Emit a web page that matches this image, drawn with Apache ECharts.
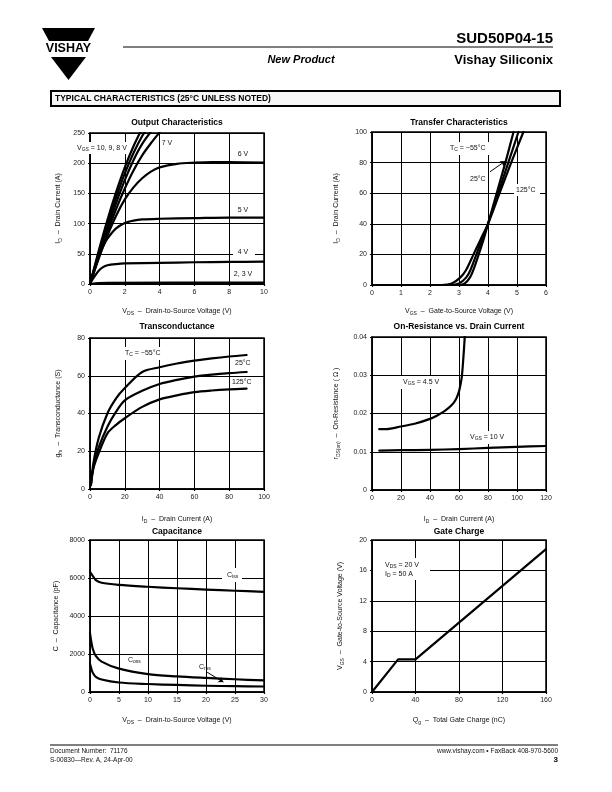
<!DOCTYPE html>
<html><head><meta charset="utf-8">
<script src="https://cdn.jsdelivr.net/npm/echarts@6/dist/echarts.min.js"></script>
<style>html,body{margin:0;padding:0;background:#fff}#c{width:612px;height:792px}</style>
</head><body><div id="c"></div>
<script>
// ---------- DATA ----------
// Output characteristics [VDS, ID]
const out10 = [[0,0],[0.5,55],[1,106],[1.5,152],[2,193],[2.5,228],[2.95,255]];
const out9  = [[0,0],[0.5,51],[1,99],[1.5,143],[2,183],[2.5,217],[3,245],[3.25,256]];
const out8  = [[0,0],[0.5,47],[1,92],[1.5,134],[2,172],[2.5,205],[3,232],[3.6,256]];
const out7  = [[0,0],[0.5,44],[1,86],[1.5,124],[2,158],[2.5,188],[3,213],[3.5,233],[4,251]];
const out6  = [[0,0],[0.5,42],[1,80],[1.5,113],[2,140],[2.5,160],[3,175],[3.5,186],[4,193],[5,199],[6,201],[7,202],[8,202],[10,201]];
const out5  = [[0,0],[0.25,25],[0.5,45],[0.75,62],[1,75],[1.5,92],[2,101],[2.5,105],[3,107],[4,108],[6,109],[8,110],[10,110]];
const out4  = [[0,0],[0.25,12],[0.5,22],[0.75,28],[1,31],[1.5,33],[2,34],[4,35],[6,36],[8,36.5],[10,37]];
const out3  = [[0,0],[0.5,1.5],[1,2],[10,2.2]];
const out2  = [[0,0],[10,0.2]];
// Transfer characteristics [VGS, ID]
const trM55 = [[0,0],[3.0,0],[3.2,1],[3.38,5],[3.5,10],[3.68,20],[3.85,30],[4.0,40],[4.3,60],[4.6,80],[4.88,100]];
const tr25  = [[0,0],[2.7,0],[3.0,1],[3.25,5],[3.4,10],[3.6,20],[3.8,30],[4.0,40],[4.35,60],[4.7,80],[5.05,100]];
const tr125 = [[0,0],[2.4,0],[2.75,1],[3.05,5],[3.25,10],[3.5,20],[3.75,30],[4.0,40],[4.4,60],[4.8,80],[5.22,100]];
// Transconductance [ID, gfs]
const gfsM55 = [[0.5,2],[2,14],[5,27],[10,40],[15,48],[20,53.5],[30,62],[40,64.5],[50,66.5],[60,68],[70,69.2],[80,70.2],[90,71]];
const gfs25  = [[0.5,2],[2,12],[5,22],[10,33],[15,41],[20,47],[30,52],[40,55.6],[50,57.8],[60,59.5],[70,60.6],[80,61.4],[90,62]];
const gfs125 = [[0.5,2],[2,11],[5,19],[10,29.5],[15,34],[20,37.5],[30,43.5],[40,47.5],[50,49.6],[60,51.3],[70,52.2],[80,52.8],[90,53.2]];
// On-resistance [ID, rDS(on)]
const ron45 = [[5,0.0159],[10,0.0159],[20,0.0166],[30,0.0174],[40,0.0186],[45,0.0195],[50,0.0206],[55,0.0222],[58,0.0238],[60,0.0258],[61,0.0275],[62,0.0298],[63,0.0345],[63.8,0.039],[64.3,0.0425]];
const ron10 = [[5,0.0103],[20,0.0104],[40,0.0105],[60,0.0107],[80,0.0110],[100,0.0113],[120,0.0115]];
// Capacitance [VDS, C]
const cIss = [[0,6330],[0.5,6100],[1,5890],[2,5750],[5,5640],[10,5540],[15,5460],[20,5390],[25,5330],[30,5270]];
const cOss = [[0,3100],[0.25,2600],[0.5,2250],[1,1900],[2,1600],[5,1230],[10,940],[15,820],[20,740],[25,670],[30,610]];
const cRss = [[0,1480],[0.25,1200],[0.5,1000],[1,800],[2,660],[5,500],[10,420],[15,370],[20,330],[25,305],[30,290]];
// Gate charge [Qg, VGS]
const gateQ = [[0,0],[24,4.3],[40,4.3],[160,18.8]];

// ---------- STYLE ----------
const FF = 'Liberation Sans, Arial, sans-serif';
const rich = {
  n: {fontSize: 7, fontFamily: FF, color: '#111'},
  s: {fontSize: 5, fontFamily: FF, color: '#111', padding: [4, 0, 0, 0]}
};
const grids = [
  {left: 90, top: 133, width: 174, height: 151},
  {left: 372, top: 132, width: 174, height: 153},
  {left: 90, top: 338, width: 174, height: 151},
  {left: 372, top: 337, width: 174, height: 153},
  {left: 90, top: 540, width: 174, height: 152},
  {left: 372, top: 540, width: 174, height: 152}
].map(g => Object.assign({show: true, borderColor: '#000', borderWidth: 1.5, containLabel: false}, g));

function axis(idx, min, max, interval, name, gap, fmt) {
  return {
    type: 'value', gridIndex: idx, min, max, interval,
    name, nameLocation: 'middle', nameGap: gap,
    nameTextStyle: {rich, fontSize: 7, fontFamily: FF, color: '#111'},
    axisLine: {show: true, lineStyle: {color: '#000', width: 1.5}},
    axisTick: {show: true, length: 2, lineStyle: {color: '#000', width: 1.2}},
    axisLabel: {fontSize: 7, fontFamily: FF, color: '#222', margin: 5, formatter: fmt || (v => String(v))},
    splitLine: {show: true, lineStyle: {color: '#000', width: 1}}
  };
}
const xAxes = [
  axis(0, 0, 10, 2, '{n|V}{s|DS}{n|  –  Drain-to-Source Voltage (V)}', 23),
  axis(1, 0, 6, 1, '{n|V}{s|GS}{n|  –  Gate-to-Source Voltage (V)}', 22),
  axis(2, 0, 100, 20, '{n|I}{s|D}{n|  –  Drain Current (A)}', 26),
  axis(3, 0, 120, 20, '{n|I}{s|D}{n|  –  Drain Current (A)}', 25),
  axis(4, 0, 30, 5, '{n|V}{s|DS}{n|  –  Drain-to-Source Voltage (V)}', 24),
  axis(5, 0, 160, 40, '{n|Q}{s|g}{n|  –  Total Gate Charge (nC)}', 24)
];
const yAxes = [
  axis(0, 0, 250, 50, '{n|I}{s|D}{n|  –  Drain Current (A)}', 27),
  axis(1, 0, 100, 20, '{n|I}{s|D}{n|  –  Drain Current (A)}', 31),
  axis(2, 0, 80, 20, '{n|g}{s|fs}{n|  –  Transconductance (S)}', 27),
  axis(3, 0, 0.04, 0.01, '{n|r}{s|DS(on)}{n|  –  On-Resistance ( Ω )}', 31, v => v === 0 ? '0' : v.toFixed(2)),
  axis(4, 0, 8000, 2000, '{n|C  –  Capacitance (pF)}', 30),
  axis(5, 0, 20, 4, '{n|V}{s|GS}{n|  –  Gate-to-Source Voltage (V)}', 27)
];

function line(idx, data, extra) {
  return Object.assign({
    type: 'line', xAxisIndex: idx, yAxisIndex: idx, data,
    showSymbol: false, symbol: 'none', smooth: 0.3,
    lineStyle: {color: '#000', width: 2.2, join: 'round', cap: 'round'}, clip: true, silent: true, animation: false
  }, extra || {});
}
function arrow(from, to) {
  return {
    silent: true, symbol: ['none', 'arrow'], symbolSize: 5, animation: false,
    label: {show: false}, lineStyle: {color: '#000', width: 1, type: 'solid'},
    data: [[{coord: from}, {coord: to}]]
  };
}
const series = [
  line(0, out10), line(0, out9), line(0, out8), line(0, out7), line(0, out6),
  line(0, out5), line(0, out4), line(0, out3), line(0, out2),
  line(1, trM55, {markLine: arrow([4.07, 74], [4.6, 81])}), line(1, tr25), line(1, tr125),
  line(2, gfsM55), line(2, gfs25), line(2, gfs125),
  line(3, ron45), line(3, ron10),
  line(4, cIss), line(4, cOss), line(4, cRss, {markLine: arrow([20.2, 1040], [23, 520])}),
  line(5, gateQ, {smooth: false})
];

// ---------- TEXT / DECORATION ----------
function txt(x, y, text, o) {
  o = o || {};
  return {type: 'text', x, y, z: 100, silent: true, style: Object.assign({
    text, fill: '#111', fontSize: 7, fontFamily: FF, textAlign: 'left', textVerticalAlign: 'middle', rich
  }, o)};
}
function wbox(x, y, w, h) {
  return {type: 'rect', z: 90, silent: true, shape: {x, y, width: w, height: h}, style: {fill: '#fff'}};
}
const titleStyle = {fontSize: 8.5, fontWeight: 'bold', textAlign: 'center', fill: '#000'};
const graphic = [
  // logo
  {type: 'polygon', silent: true, shape: {points: [[42, 28], [95, 28], [88, 41], [49, 41]]}, style: {fill: '#000'}},
  txt(68.5, 49, 'VISHAY', {fontSize: 12.5, fontWeight: 'bold', textAlign: 'center', fill: '#000'}),
  {type: 'polygon', silent: true, shape: {points: [[51, 57], [86, 57], [68.5, 80]]}, style: {fill: '#000'}},
  // header
  {type: 'line', silent: true, shape: {x1: 123, y1: 47, x2: 553, y2: 47}, style: {stroke: '#000', lineWidth: 1}},
  txt(553, 39, 'SUD50P04-15', {fontSize: 15, fontWeight: 'bold', textAlign: 'right', fill: '#000'}),
  txt(553, 60, 'Vishay Siliconix', {fontSize: 13, fontWeight: 'bold', textAlign: 'right', fill: '#000'}),
  txt(301, 60, 'New Product', {fontSize: 11, fontWeight: 'bold', fontStyle: 'italic', textAlign: 'center', fill: '#000'}),
  {type: 'rect', silent: true, shape: {x: 51, y: 91, width: 509, height: 15}, style: {fill: '#f7f7f7', stroke: '#000', lineWidth: 2}},
  txt(55, 98.5, 'TYPICAL CHARACTERISTICS (25°C UNLESS NOTED)', {fontSize: 8.5, fontWeight: 'bold', fill: '#000'}),
  // footer
  {type: 'line', silent: true, shape: {x1: 50, y1: 745, x2: 558, y2: 745}, style: {stroke: '#000', lineWidth: 1}},
  txt(50, 751, 'Document Number:  71176', {fontSize: 6.5}),
  txt(50, 760, 'S-00830—Rev. A, 24-Apr-00', {fontSize: 6.5}),
  txt(558, 751, 'www.vishay.com • FaxBack 408-970-5600', {fontSize: 6.5, textAlign: 'right'}),
  txt(558, 760, '3', {fontSize: 8, fontWeight: 'bold', textAlign: 'right', fill: '#000'}),
  // titles
  txt(177, 123, 'Output Characteristics', titleStyle),
  txt(459, 123, 'Transfer Characteristics', titleStyle),
  txt(177, 327, 'Transconductance', titleStyle),
  txt(459, 327, 'On-Resistance vs. Drain Current', titleStyle),
  txt(177, 532, 'Capacitance', titleStyle),
  txt(459, 532, 'Gate Charge', titleStyle),
  // chart 1 labels
  wbox(76, 142, 50, 12),
  txt(77, 148, '{n|V}{s|GS}{n| = 10, 9, 8 V}'),
  txt(167, 143, '7 V', {textAlign: 'center'}),
  txt(243, 154, '6 V', {textAlign: 'center'}),
  txt(243, 210, '5 V', {textAlign: 'center'}),
  wbox(233, 247, 22, 11),
  txt(243, 252, '4 V', {textAlign: 'center'}),
  txt(243, 274, '2, 3 V', {textAlign: 'center'}),
  // chart 2 labels
  wbox(448, 142, 48, 13),
  txt(450, 148, '{n|T}{s|C}{n| = −55°C}'),
  wbox(468, 174, 20, 10),
  txt(470, 179, '25°C'),
  wbox(514, 184, 26, 12),
  txt(516, 190, '125°C'),
  // chart 3 labels
  wbox(123, 347, 40, 13),
  txt(125, 353, '{n|T}{s|C}{n| = −55°C}'),
  txt(235, 363, '25°C'),
  txt(232, 382, '125°C'),
  // chart 4 labels
  wbox(401, 376, 41, 13),
  txt(403, 382, '{n|V}{s|GS}{n| = 4.5 V}'),
  wbox(468, 431, 40, 13),
  txt(470, 437, '{n|V}{s|GS}{n| = 10 V}'),
  // chart 5 labels
  wbox(222, 568, 20, 14),
  txt(227, 575, '{n|C}{s|iss}'),
  txt(128, 660, '{n|C}{s|oss}'),
  txt(199, 667, '{n|C}{s|rss}'),
  // chart 6 labels
  wbox(373, 558, 57, 22),
  txt(385, 565, '{n|V}{s|DS}{n| = 20 V}'),
  txt(385, 574, '{n|I}{s|D}{n| = 50 A}')
];

const chart = echarts.init(document.getElementById('c'), null, {renderer: 'canvas', width: 612, height: 792});
chart.setOption({
  animation: false,
  backgroundColor: '#fff',
  grid: grids, xAxis: xAxes, yAxis: yAxes, series, graphic
});
</script>
</body></html>
